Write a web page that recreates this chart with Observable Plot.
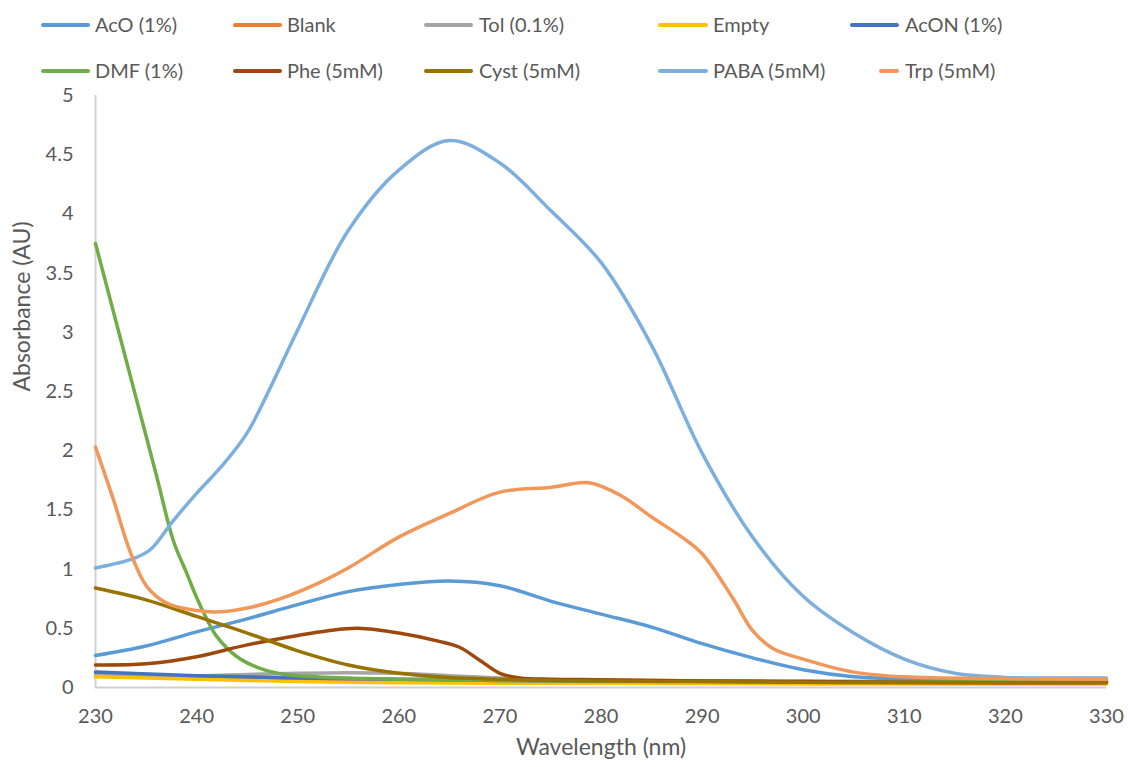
<!DOCTYPE html>
<html>
<head>
<meta charset="utf-8">
<script src="https://cdn.jsdelivr.net/npm/d3@7"></script>
<script src="https://cdn.jsdelivr.net/npm/@observablehq/plot@0.6"></script>
<style>
  html, body { margin: 0; padding: 0; background: #fff; }
  #wrap { position: relative; width: 1130px; height: 767px; overflow: hidden; font-family: Lato, "Liberation Sans", sans-serif; color: #595959; }
  #legend { position: relative; width: 1130px; height: 75px; }
  .sw { position: absolute; height: 4px; border-radius: 2px; }
  .lb { position: absolute; font-size: 20px; line-height: 20px; white-space: nowrap; }
  #chart svg { display: block; }
</style>
</head>
<body>
<div id="wrap">
  <div id="legend"></div>
  <div id="chart"></div>
</div>
<script>
// UV absorbance spectra, 230–330 nm
const xTicks = [230, 240, 250, 260, 270, 280, 290, 300, 310, 320, 330];
const yTicks = [0, 0.5, 1, 1.5, 2, 2.5, 3, 3.5, 4, 4.5, 5];

const seriesNames = ["AcO (1%)", "Blank", "Tol (0.1%)", "Empty", "AcON (1%)",
                     "DMF (1%)", "Phe (5mM)", "Cyst (5mM)", "PABA (5mM)", "Trp (5mM)"];
const seriesColors = ["#5B9BD5", "#ED7D31", "#A5A5A5", "#FFC000", "#4472C4",
                      "#70AD47", "#9E480E", "#997300", "#7CAFDD", "#F1975A"];

const acoWl  = [230, 235, 240, 245, 250, 255, 260, 265, 270, 275, 280, 285, 290, 295, 300, 305, 310, 315, 320, 325, 330];
const acoAbs = [0.27, 0.35, 0.47, 0.58, 0.70, 0.81, 0.87, 0.90, 0.86, 0.73, 0.62, 0.51, 0.37, 0.25, 0.15, 0.09, 0.07, 0.06, 0.06, 0.06, 0.06];

const blankWl  = [230, 240, 250, 260, 280, 300, 330];
const blankAbs = [0.10, 0.08, 0.06, 0.055, 0.05, 0.045, 0.045];

const tolWl  = [230, 240, 245, 250, 255, 260, 265, 270, 275, 280, 290, 300, 330];
const tolAbs = [0.11, 0.10, 0.11, 0.12, 0.125, 0.12, 0.10, 0.08, 0.065, 0.06, 0.055, 0.05, 0.05];

const emptyWl  = [230, 240, 250, 260, 280, 300, 330];
const emptyAbs = [0.09, 0.07, 0.05, 0.04, 0.035, 0.03, 0.03];

const aconWl  = [230, 240, 250, 260, 270, 280, 300, 330];
const aconAbs = [0.13, 0.10, 0.08, 0.07, 0.06, 0.055, 0.05, 0.045];

const dmfWl  = [230, 232, 234, 236, 237.7, 239, 240, 241, 242, 244, 246, 248, 250, 255, 260, 270, 280, 300, 330];
const dmfAbs = [3.75, 3.10, 2.45, 1.80, 1.24, 0.97, 0.76, 0.58, 0.43, 0.26, 0.17, 0.12, 0.10, 0.08, 0.07, 0.06, 0.055, 0.05, 0.05];

const pheWl  = [230, 235, 240, 245, 250, 253, 256, 260, 264, 266, 268, 270, 272, 275, 280, 290, 300, 310, 320, 330];
const pheAbs = [0.19, 0.20, 0.26, 0.36, 0.44, 0.48, 0.50, 0.46, 0.39, 0.34, 0.23, 0.12, 0.08, 0.07, 0.065, 0.055, 0.05, 0.045, 0.04, 0.04];

const cystWl  = [230, 235, 240, 245, 250, 255, 260, 265, 270, 275, 280, 290, 300, 310, 320, 330];
const cystAbs = [0.84, 0.74, 0.60, 0.46, 0.31, 0.19, 0.12, 0.085, 0.07, 0.06, 0.055, 0.05, 0.045, 0.04, 0.04, 0.04];

const pabaWl  = [230, 233.8, 235.5, 237.7, 240, 242.7, 245, 247, 250, 255, 260, 265, 270, 275, 280, 285, 290, 295, 300, 305, 310, 315, 320, 325, 330];
const pabaAbs = [1.01, 1.09, 1.17, 1.41, 1.64, 1.89, 2.15, 2.48, 3.02, 3.86, 4.37, 4.62, 4.43, 4.03, 3.59, 2.89, 1.98, 1.27, 0.77, 0.46, 0.24, 0.12, 0.085, 0.08, 0.08];

const trpWl  = [230, 231.8, 233.5, 235.1, 237.1, 240, 242.4, 245.5, 248.3, 252, 255, 260, 265, 270, 275, 278.8, 282, 285, 288, 290, 293, 295, 297, 300, 305, 310, 320, 330];
const trpAbs = [2.03, 1.58, 1.13, 0.85, 0.71, 0.65, 0.64, 0.68, 0.75, 0.88, 1.01, 1.27, 1.47, 1.65, 1.69, 1.73, 1.62, 1.44, 1.27, 1.13, 0.76, 0.48, 0.33, 0.24, 0.13, 0.09, 0.075, 0.07];

const seriesWl  = [acoWl, blankWl, tolWl, emptyWl, aconWl, dmfWl, pheWl, cystWl, pabaWl, trpWl];
const seriesAbs = [acoAbs, blankAbs, tolAbs, emptyAbs, aconAbs, dmfAbs, pheAbs, cystAbs, pabaAbs, trpAbs];

// Long-form table built from the arrays above
const rows = seriesNames.flatMap((name, i) =>
  seriesWl[i].map((wl, j) => ({series: name, wl, abs: seriesAbs[i][j]}))
);

// Legend: two rows of five
const legendSlots = [
  {sx: 41, sw: 49, tx: 95, y: 25}, {sx: 233, sw: 49, tx: 287, y: 25}, {sx: 424, sw: 49, tx: 479, y: 25},
  {sx: 658, sw: 50, tx: 713, y: 25}, {sx: 850, sw: 49, tx: 905, y: 25},
  {sx: 41, sw: 49, tx: 95, y: 71}, {sx: 233, sw: 49, tx: 287, y: 71}, {sx: 424, sw: 49, tx: 479, y: 71},
  {sx: 658, sw: 50, tx: 713, y: 71}, {sx: 879, sw: 20, tx: 905, y: 71}
];
const legend = document.getElementById("legend");
seriesNames.forEach((name, i) => {
  const s = legendSlots[i];
  const sw = document.createElement("div");
  sw.className = "sw";
  sw.style.left = s.sx + "px"; sw.style.width = s.sw + "px";
  sw.style.top = (s.y - 2) + "px"; sw.style.background = seriesColors[i];
  legend.appendChild(sw);
  const lb = document.createElement("div");
  lb.className = "lb";
  lb.style.left = s.tx + "px"; lb.style.top = (s.y - 11) + "px";
  lb.textContent = name;
  legend.appendChild(lb);
});

const chart = Plot.plot({
  width: 1130,
  height: 692,
  marginLeft: 95,
  marginRight: 24,
  marginTop: 20,
  marginBottom: 80,
  style: {fontFamily: "Lato, 'Liberation Sans', sans-serif", fontSize: "20px", color: "#595959", background: "transparent", overflow: "visible"},
  x: {domain: [230, 330]},
  y: {domain: [0, 5]},
  color: {domain: seriesNames, range: seriesColors},
  marks: [
    Plot.ruleX([230], {stroke: "#D0D0D0", strokeWidth: 2}),
    Plot.ruleY([0], {stroke: "#D0D0D0", strokeWidth: 2}),
    Plot.axisX(xTicks, {tickSize: 0, tickPadding: 21, label: null, fill: "#595959", fontSize: 20}),
    Plot.axisY(yTicks, {tickSize: 0, tickPadding: 22, label: null, fill: "#595959", fontSize: 20,
                        tickFormat: d3.format("~g")}),
    Plot.line(rows, {x: "wl", y: "abs", z: "series", stroke: "series", strokeWidth: 3.5,
                     curve: "catmull-rom"}),
    Plot.text(["Wavelength (nm)"], {frameAnchor: "bottom", dy: 67, fontSize: 23, fill: "#595959"}),
    Plot.text(["Absorbance (AU)"], {frameAnchor: "left", dx: -73, rotate: -90, fontSize: 23, fill: "#595959"})
  ]
});
document.getElementById("chart").appendChild(chart);
</script>
</body>
</html>
